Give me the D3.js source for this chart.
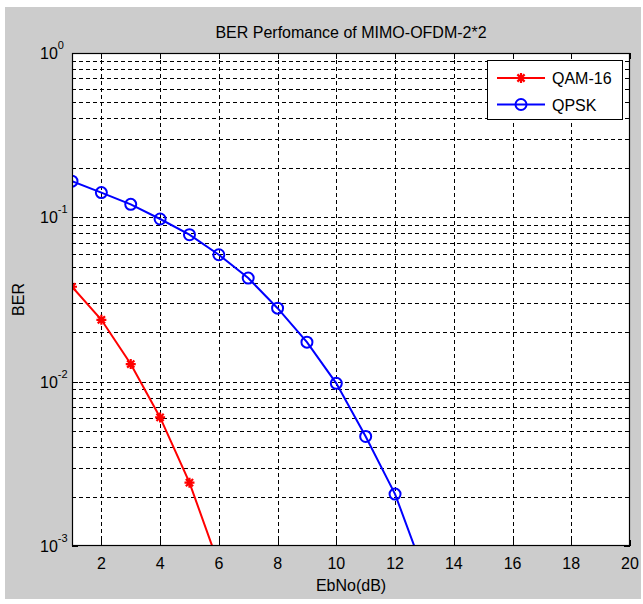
<!DOCTYPE html>
<html>
<head>
<meta charset="utf-8">
<script src="https://cdn.jsdelivr.net/npm/d3@7/dist/d3.min.js"></script>
<style>
  body { margin: 0; background: #fff; }
  text { font-family: "Liberation Sans", Arial, sans-serif; fill: #000; }
</style>
</head>
<body>
<svg id="chart" width="643" height="604"></svg>
<script>
// values
var qamEbNo = [1, 2, 3, 4, 5, 6]
  , qamBer = [0.0378, 0.0238, 0.0128, 0.00606, 0.00243, 0.00077]
  , qpskEbNo = [1, 2, 3, 4, 5, 6, 7, 8, 9, 10, 11, 12, 13]
  , qpskBer = [0.166, 0.1415, 0.120, 0.0977, 0.0784, 0.0592, 0.0427, 0.028, 0.0174, 0.00977, 0.00464, 0.00207, 0.00068]
  , xTicks = [2, 4, 6, 8, 10, 12, 14, 16, 18, 20]
  , yDecades = [1e-3, 1e-2, 1e-1, 1]
  , seriesNames = ['QAM-16', 'QPSK']
  , seriesColors = ['#ff0000', '#0000ff']

// note: `top` is taken by window.top, so plot edges get a prefix
var svg = d3.select('#chart')
  , pLeft = 72, pRight = 630, pTop = 53, pBottom = 546
  , x = d3.scaleLinear().domain([1, 20]).range([pLeft, pRight])
  , y = d3.scaleLog().domain([1e-3, 1]).range([pBottom, pTop])

// figure background (matlab grey)
svg.append('rect').attr('x', 5).attr('y', 7).attr('width', 636).attr('height', 592).attr('fill', '#cccccc')
svg.append('rect').attr('x', pLeft).attr('y', pTop).attr('width', pRight - pLeft).attr('height', pBottom - pTop).attr('fill', '#fff')

// dashed grid, every log minor tick
var yMinor = y.ticks().filter(function(d) { return d > 1e-3 && d < 1 })
var grid = svg.append('g').attr('stroke', '#000').attr('stroke-width', 1).attr('stroke-dasharray', '4,3')
grid.selectAll('.gx').data(xTicks.filter(function(d) { return d < 20 })).enter().append('line')
  .attr('x1', function(d) { return Math.round(x(d)) + 0.5 }).attr('x2', function(d) { return Math.round(x(d)) + 0.5 })
  .attr('y1', pTop).attr('y2', pBottom)
grid.selectAll('.gy').data(yMinor).enter().append('line')
  .attr('x1', pLeft).attr('x2', pRight)
  .attr('y1', function(d) { return Math.round(y(d)) + 0.5 }).attr('y2', function(d) { return Math.round(y(d)) + 0.5 })

// inward ticks on all four sides
var ticks = svg.append('g').attr('stroke', '#000').attr('stroke-width', 1)
xTicks.forEach(function(d) {
  var px = Math.round(x(d)) + 0.5
  ticks.append('line').attr('x1', px).attr('x2', px).attr('y1', pBottom).attr('y2', pBottom - 6)
  ticks.append('line').attr('x1', px).attr('x2', px).attr('y1', pTop).attr('y2', pTop + 6)
})
yMinor.concat(yDecades).forEach(function(d) {
  var py = Math.round(y(d)) + 0.5
    , len = yDecades.indexOf(d) >= 0 ? 6 : 3
  ticks.append('line').attr('x1', pLeft).attr('x2', pLeft + len).attr('y1', py).attr('y2', py)
  ticks.append('line').attr('x1', pRight).attr('x2', pRight - len).attr('y1', py).attr('y2', py)
})

// tick labels
svg.append('g').selectAll('text').data(xTicks).enter().append('text')
  .attr('x', function(d) { return x(d) }).attr('y', 569)
  .attr('text-anchor', 'middle').attr('font-size', 16)
  .text(function(d) { return d })

var yLab = svg.append('g').selectAll('text').data(yDecades).enter().append('text')
  .attr('x', 40).attr('y', function(d) { return y(d) + 6 }).attr('font-size', 16)
yLab.append('tspan').text('10')
yLab.append('tspan').attr('font-size', 11).attr('dy', -10)
  .text(function(d) { return Math.round(Math.log10(d)) })

// series
var clip = svg.append('clipPath').attr('id', 'plotclip')
clip.append('rect').attr('x', pLeft).attr('y', pTop).attr('width', pRight - pLeft).attr('height', pBottom - pTop)

var line = d3.line().x(function(d) { return x(d[0]) }).y(function(d) { return y(d[1]) })
var qam = d3.zip(qamEbNo, qamBer)
  , qpsk = d3.zip(qpskEbNo, qpskBer)
var plot = svg.append('g').attr('clip-path', 'url(#plotclip)')

plot.append('path').datum(qam).attr('d', line).attr('fill', 'none')
  .attr('stroke', seriesColors[0]).attr('stroke-width', 2)
plot.append('path').datum(qpsk).attr('d', line).attr('fill', 'none')
  .attr('stroke', seriesColors[1]).attr('stroke-width', 2)

// matlab-style asterisk marker
var star = function(r) {
  var a = r * 0.72
  return 'M' + -r + ',0L' + r + ',0M0,' + -r + 'L0,' + r +
    'M' + -a + ',' + -a + 'L' + a + ',' + a + 'M' + -a + ',' + a + 'L' + a + ',' + -a
}
plot.selectAll('.star').data(qam).enter().append('path')
  .attr('transform', function(d) { return 'translate(' + x(d[0]) + ',' + y(d[1]) + ')' })
  .attr('d', star(5)).attr('stroke', seriesColors[0]).attr('stroke-width', 2.2).attr('fill', 'none')
plot.selectAll('.circ').data(qpsk).enter().append('circle')
  .attr('cx', function(d) { return x(d[0]) }).attr('cy', function(d) { return y(d[1]) })
  .attr('r', 5.5).attr('stroke', seriesColors[1]).attr('stroke-width', 2).attr('fill', 'none')

// axes box
svg.append('rect').attr('x', pLeft + 0.5).attr('y', pTop + 0.5).attr('width', pRight - pLeft - 1).attr('height', pBottom - pTop - 1)
  .attr('fill', 'none').attr('stroke', '#000').attr('stroke-width', 1.2)

// legend
var legend = svg.append('g').attr('transform', 'translate(487,60)')
legend.append('rect').attr('x', 0.5).attr('y', 0.5).attr('width', 135).attr('height', 59)
  .attr('fill', '#fff').attr('stroke', '#000').attr('stroke-width', 1)
seriesNames.forEach(function(name, i) {
  var ly = 18 + i * 26.5
  legend.append('line').attr('x1', 10).attr('x2', 58).attr('y1', ly).attr('y2', ly)
    .attr('stroke', seriesColors[i]).attr('stroke-width', 2)
  if (i === 0)
    legend.append('path').attr('transform', 'translate(34,' + ly + ')').attr('d', star(5))
      .attr('stroke', seriesColors[i]).attr('stroke-width', 2.2).attr('fill', 'none')
  else
    legend.append('circle').attr('cx', 34).attr('cy', ly).attr('r', 5.5)
      .attr('stroke', seriesColors[i]).attr('stroke-width', 2).attr('fill', 'none')
  legend.append('text').attr('x', 65).attr('y', ly + 6).attr('font-size', 16).text(name)
})

// titles
svg.append('text').attr('x', (pLeft + pRight) / 2).attr('y', 38).attr('text-anchor', 'middle')
  .attr('font-size', 16).text('BER Perfomance of MIMO-OFDM-2*2')
svg.append('text').attr('x', (pLeft + pRight) / 2).attr('y', 591).attr('text-anchor', 'middle')
  .attr('font-size', 16).text('EbNo(dB)')
svg.append('text').attr('transform', 'translate(24,' + (pTop + pBottom) / 2 + ') rotate(-90)')
  .attr('text-anchor', 'middle').attr('font-size', 16).text('BER')
</script>
</body>
</html>
